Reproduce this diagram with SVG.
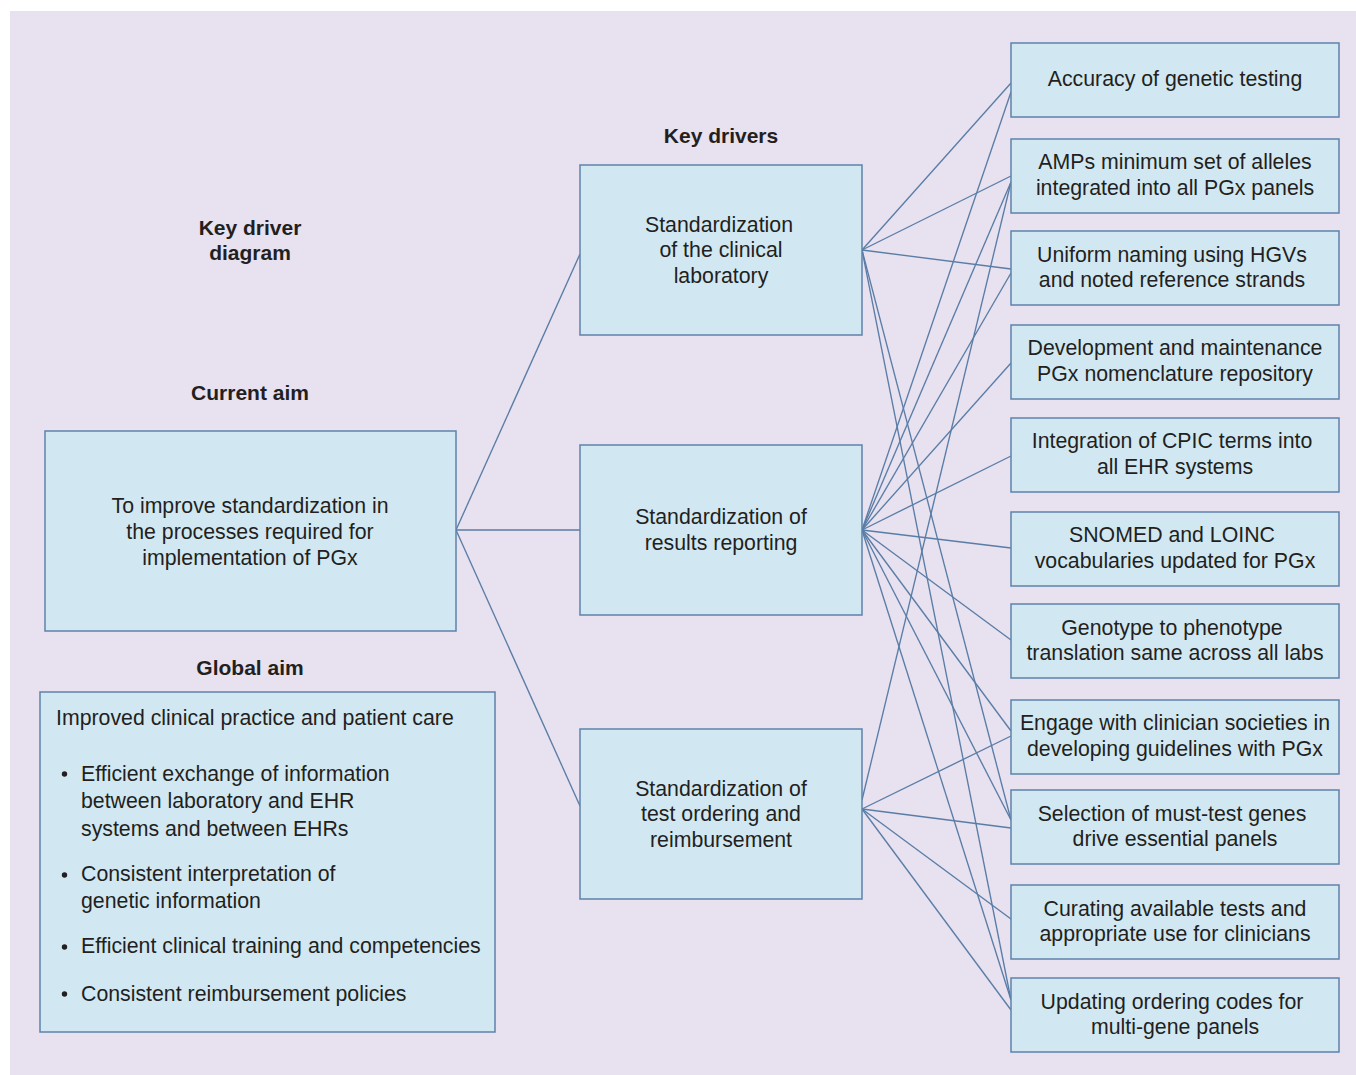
<svg xmlns="http://www.w3.org/2000/svg" width="1356" height="1075" viewBox="0 0 1356 1075">
<style>
.bg{fill:#E7E1F0}
.box{fill:#D1E8F3;stroke:#5F82AA;stroke-width:1.5}
.t{font-family:"Liberation Sans",Arial,sans-serif;font-size:21.3px;fill:#231F20}
.c{text-anchor:middle}
.b{font-weight:bold;font-size:21px}
.ln{stroke:#5A7DA6;stroke-width:1.35;fill:none}
.dot{fill:#231F20}
</style>
<rect x="0" y="0" width="1356" height="1075" fill="#ffffff"/>
<rect class="bg" x="10" y="11" width="1346" height="1064"/>

<g id="headings">
<text class="t b c" x="250" y="235">Key driver</text>
<text class="t b c" x="250" y="260">diagram</text>
<text class="t b c" x="250" y="400">Current aim</text>
<text class="t b c" x="250" y="675">Global aim</text>
<text class="t b c" x="721" y="143">Key drivers</text>
</g>

<g id="connectors">
<line class="ln" x1="456" y1="530" x2="580" y2="254"/>
<line class="ln" x1="456" y1="530" x2="580" y2="530"/>
<line class="ln" x1="456" y1="530" x2="580" y2="806"/>

<line class="ln" x1="862" y1="250" x2="1011" y2="83"/>
<line class="ln" x1="862" y1="250" x2="1011" y2="176"/>
<line class="ln" x1="862" y1="250" x2="1011" y2="269"/>
<line class="ln" x1="862" y1="250" x2="1011" y2="820"/>
<line class="ln" x1="862" y1="250" x2="1011" y2="1000"/>

<line class="ln" x1="862" y1="530" x2="1011" y2="92"/>
<line class="ln" x1="862" y1="530" x2="1011" y2="182"/>
<line class="ln" x1="862" y1="530" x2="1011" y2="273"/>
<line class="ln" x1="862" y1="530" x2="1011" y2="363"/>
<line class="ln" x1="862" y1="530" x2="1011" y2="456"/>
<line class="ln" x1="862" y1="530" x2="1011" y2="548"/>
<line class="ln" x1="862" y1="530" x2="1011" y2="640"/>
<line class="ln" x1="862" y1="530" x2="1011" y2="731"/>
<line class="ln" x1="862" y1="530" x2="1011" y2="820"/>
<line class="ln" x1="862" y1="530" x2="1011" y2="1000"/>

<line class="ln" x1="862" y1="800" x2="1011" y2="182"/>
<line class="ln" x1="862" y1="809" x2="1011" y2="736"/>
<line class="ln" x1="862" y1="809" x2="1011" y2="828"/>
<line class="ln" x1="862" y1="809" x2="1011" y2="919"/>
<line class="ln" x1="862" y1="809" x2="1011" y2="1010"/>
</g>

<g id="current-aim">
<rect class="box" x="45" y="431" width="411" height="200"/>
<text class="t c" x="250" y="513">To improve standardization in</text>
<text class="t c" x="250" y="539">the processes required for</text>
<text class="t c" x="250" y="565">implementation of PGx</text>
</g>

<g id="global-aim">
<rect class="box" x="40" y="692" width="455" height="340"/>
<text class="t" x="56" y="725">Improved clinical practice and patient care</text>
<circle class="dot" cx="64.5" cy="774" r="2.7"/>
<text class="t" x="81" y="781">Efficient exchange of information</text>
<text class="t" x="81" y="808">between laboratory and EHR</text>
<text class="t" x="81" y="836">systems and between EHRs</text>
<circle class="dot" cx="64.5" cy="875" r="2.7"/>
<text class="t" x="81" y="881">Consistent interpretation of</text>
<text class="t" x="81" y="908">genetic information</text>
<circle class="dot" cx="64.5" cy="947" r="2.7"/>
<text class="t" x="81" y="953">Efficient clinical training and competencies</text>
<circle class="dot" cx="64.5" cy="994" r="2.7"/>
<text class="t" x="81" y="1001">Consistent reimbursement policies</text>
</g>

<g id="driver-lab">
<rect class="box" x="580" y="165" width="282" height="170"/>
<text class="t c" x="719" y="232">Standardization</text>
<text class="t c" x="721" y="257">of the clinical</text>
<text class="t c" x="721" y="283">laboratory</text>
</g>

<g id="driver-reporting">
<rect class="box" x="580" y="445" width="282" height="170"/>
<text class="t c" x="721" y="524">Standardization of</text>
<text class="t c" x="721" y="550">results reporting</text>
</g>

<g id="driver-ordering">
<rect class="box" x="580" y="729" width="282" height="170"/>
<text class="t c" x="721" y="796">Standardization of</text>
<text class="t c" x="721" y="821">test ordering and</text>
<text class="t c" x="721" y="847">reimbursement</text>
</g>

<g id="r1">
<rect class="box" x="1011" y="43" width="328" height="74"/>
<text class="t c" x="1175" y="86">Accuracy of genetic testing</text>
</g>
<g id="r2">
<rect class="box" x="1011" y="139" width="328" height="74"/>
<text class="t c" x="1175" y="169">AMPs minimum set of alleles</text>
<text class="t c" x="1175" y="195">integrated into all PGx panels</text>
</g>
<g id="r3">
<rect class="box" x="1011" y="231" width="328" height="74"/>
<text class="t c" x="1172" y="262">Uniform naming using HGVs</text>
<text class="t c" x="1172" y="287">and noted reference strands</text>
</g>
<g id="r4">
<rect class="box" x="1011" y="325" width="328" height="74"/>
<text class="t c" x="1175" y="355">Development and maintenance</text>
<text class="t c" x="1175" y="381">PGx nomenclature repository</text>
</g>
<g id="r5">
<rect class="box" x="1011" y="418" width="328" height="74"/>
<text class="t c" x="1172" y="448">Integration of CPIC terms into</text>
<text class="t c" x="1175" y="474">all EHR systems</text>
</g>
<g id="r6">
<rect class="box" x="1011" y="512" width="328" height="74"/>
<text class="t c" x="1172" y="542">SNOMED and LOINC</text>
<text class="t c" x="1175" y="568">vocabularies updated for PGx</text>
</g>
<g id="r7">
<rect class="box" x="1011" y="604" width="328" height="74"/>
<text class="t c" x="1172" y="635">Genotype to phenotype</text>
<text class="t c" x="1175" y="660">translation same across all labs</text>
</g>
<g id="r8">
<rect class="box" x="1011" y="700" width="328" height="74"/>
<text class="t c" x="1175" y="730">Engage with clinician societies in</text>
<text class="t c" x="1175" y="756">developing guidelines with PGx</text>
</g>
<g id="r9">
<rect class="box" x="1011" y="790" width="328" height="74"/>
<text class="t c" x="1172" y="821">Selection of must-test genes</text>
<text class="t c" x="1175" y="846">drive essential panels</text>
</g>
<g id="r10">
<rect class="box" x="1011" y="885" width="328" height="74"/>
<text class="t c" x="1175" y="916">Curating available tests and</text>
<text class="t c" x="1175" y="941">appropriate use for clinicians</text>
</g>
<g id="r11">
<rect class="box" x="1011" y="978" width="328" height="74"/>
<text class="t c" x="1172" y="1009">Updating ordering codes for</text>
<text class="t c" x="1175" y="1034">multi-gene panels</text>
</g>
</svg>
